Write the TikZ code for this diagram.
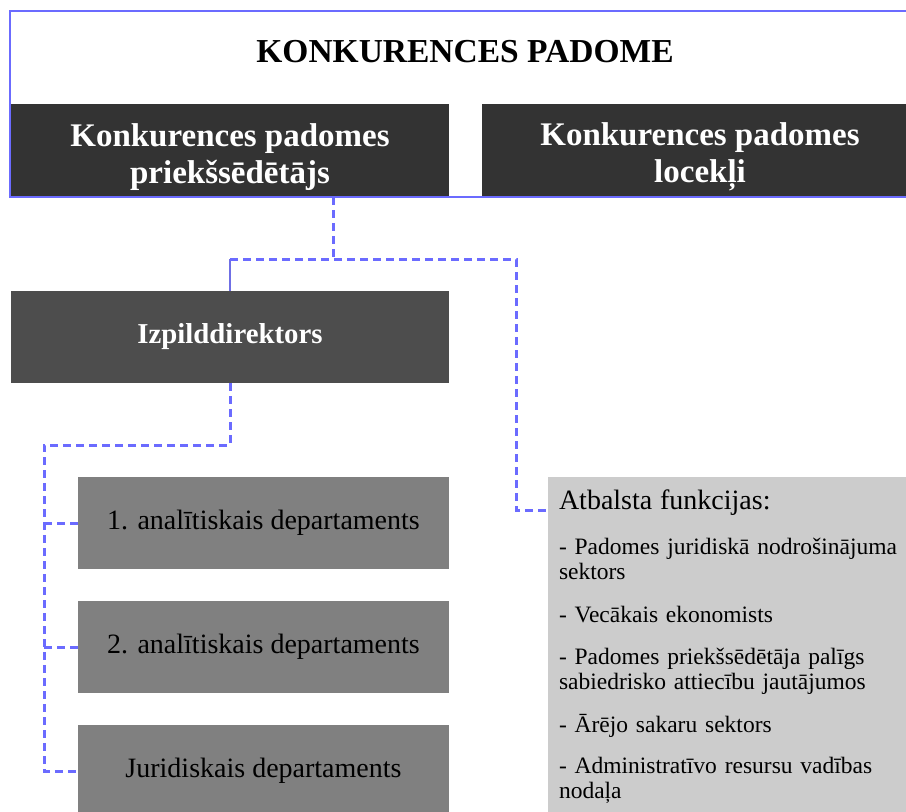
\documentclass[tikz,border=0pt]{standalone}
\usepackage{fontspec}
\setmainfont{Liberation Serif}
\usepackage{tikz}
\usetikzlibrary{positioning}
\definecolor{linkblue}{HTML}{6B6BFF}
\definecolor{chairgray}{HTML}{333333}
\definecolor{directorgray}{HTML}{4D4D4D}
\definecolor{deptgray}{HTML}{808080}
\definecolor{supportgray}{HTML}{CCCCCC}

\begin{document}
\begin{tikzpicture}[x=1pt, y=-1pt,
	every node/.style={inner sep=0pt, outer sep=0pt},
	boardbox/.style={fill=chairgray, text=white, align=center, minimum height=93pt,
		font=\fontsize{33}{37}\selectfont\bfseries},
	directorbox/.style={fill=directorgray, text=white, minimum width=438pt, minimum height=92pt,
		font=\fontsize{28.8}{32}\selectfont\bfseries},
	deptbox/.style={fill=deptgray, text=black, minimum width=371pt, minimum height=92pt,
		font=\fontsize{28}{32}\selectfont},
	supportbox/.style={fill=supportgray, text=black, anchor=north west, align=left,
		text width=350pt, inner xsep=11pt, inner ysep=13pt, font=\fontsize{23.5}{25}\selectfont},
	frameline/.style={draw=linkblue, line width=2.5pt},
	dashline/.style={draw=linkblue, line width=3pt, dash pattern=on 8pt off 5pt},
	thinline/.style={draw=linkblue!80!gray, line width=1.2pt}
	]
\useasboundingbox (0,0) rectangle (906,812);
% council frame
\node[anchor=base, font=\fontsize{33.5}{37}\selectfont\bfseries] (title) at (465,62) {KONKURENCES PADOME};
\node[boardbox, minimum width=438pt] (chair) at (230,150.5) {\rule{0pt}{36pt}Konkurences padomes\\priekšsēdētājs};
\node[boardbox, minimum width=436pt] (members) at (700,150.5) {\rule{0pt}{36pt}Konkurences padomes\\locekļi};
\draw[frameline] (906,11) -- (10,11) -- (10,197) -- (906,197);
% executive level
\node[directorbox] (director) at (230,337) {Izpilddirektors};
\node[deptbox] (dept1) at (263.5,523) {1. analītiskais departaments};
\node[deptbox] (dept2) at (263.5,647) {2. analītiskais departaments};
\node[deptbox] (dept3) at (263.5,771) {Juridiskais departaments};
\node[supportbox] (support) at (548,477) {{\fontsize{28}{25}\selectfont Atbalsta funkcijas:}\\[20pt]
	- Padomes juridiskā nodrošinājuma\\ sektors\\[18pt]
	- Vecākais ekonomists\\[17pt]
	- Padomes priekšsēdētāja palīgs\\ sabiedrisko attiecību jautājumos\\[18pt]
	- Ārējo sakaru sektors\\[16pt]
	- Administratīvo resursu vadības\\ nodaļa};
% connectors
\coordinate (j1) at (333,259);
\coordinate (j2) at (516,259);
\coordinate (j3) at (director.north |- j1);
\coordinate (j4) at (230,445);
\coordinate (rail) at (44,445);
\draw[dashline] (j1 |- chair.south) -- (j1);
\draw[thinline] (j3) -- (director.north);
\draw[dashline] (j3) -- (j2) |- ([yshift=-33pt]support.north west);
\draw[dashline] (director.south) -- (j4) -- (rail) |- (dept3.west);
\foreach \d in {dept1,dept2}
	\draw[dashline] (rail |- \d.west) -- (\d.west);
\end{tikzpicture}
\end{document}
